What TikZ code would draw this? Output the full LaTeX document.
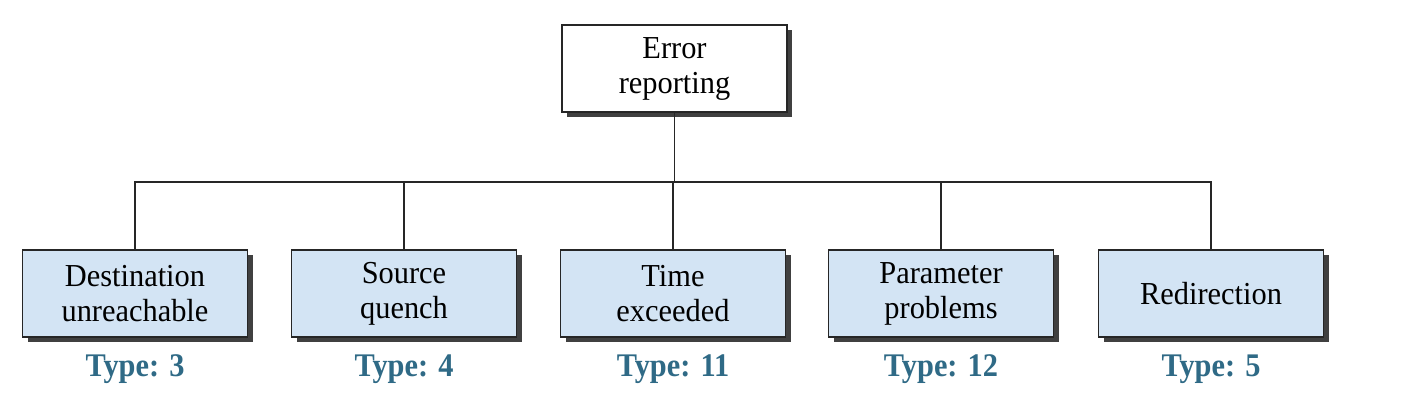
\documentclass[tikz,border=0pt]{standalone}
\usepackage{fontspec}
\setmainfont{Liberation Serif}[FakeStretch=0.95, BoldFeatures={FakeStretch=0.92}]
\usetikzlibrary{shadows}
\definecolor{boxblue}{HTML}{D3E4F4}
\definecolor{typeblue}{HTML}{2F6A86}
\begin{document}
\begin{tikzpicture}[x=1pt,y=1pt,
  boxstyle/.style={draw=black!85, line width=1.8pt, minimum width=225pt, minimum height=87pt,
     inner sep=0pt, align=center, font=\fontsize{32}{35}\selectfont,
     drop shadow={shadow xshift=5pt, shadow yshift=-5pt, fill=black!75, opacity=1}},
  leafbox/.style={boxstyle, fill=boxblue},
  rootbox/.style={boxstyle, fill=white},
  typelabel/.style={anchor=base, text=typeblue, font=\fontsize{33}{35}\selectfont\bfseries},
  wire/.style={draw=black!85, line width=1.8pt}]
\useasboundingbox (0,0) rectangle (1404,408);
\fill[white] (0,0) rectangle (1404,408);
\node[rootbox] (root) at (674.5,339.5) {Error\\reporting};
\node[leafbox] (b1) at (135,114.5) {Destination\\unreachable};
\node[leafbox] (b2) at (404,114.5) {Source\\quench};
\node[leafbox] (b3) at (673,114.5) {Time\\exceeded};
\node[leafbox] (b4) at (941,114.5) {Parameter\\problems};
\node[leafbox] (b5) at (1211,114.5) {Redirection};
\coordinate (bus) at (674.5,226);
\draw[wire] (root.south) -- (bus);
\draw[wire] (b1.north) |- (bus);
\draw[wire] (b5.north) |- (bus);
\draw[wire] (b2.north) -- (b2.north |- bus);
\draw[wire] (b3.north) -- (b3.north |- bus);
\draw[wire] (b4.north) -- (b4.north |- bus);
\node[typelabel] (t1) at (135,32) {Type: 3};
\node[typelabel] (t2) at (404,32) {Type: 4};
\node[typelabel] (t3) at (673,32) {Type: 11};
\node[typelabel] (t4) at (941,32) {Type: 12};
\node[typelabel] (t5) at (1211,32) {Type: 5};
\end{tikzpicture}
\end{document}
